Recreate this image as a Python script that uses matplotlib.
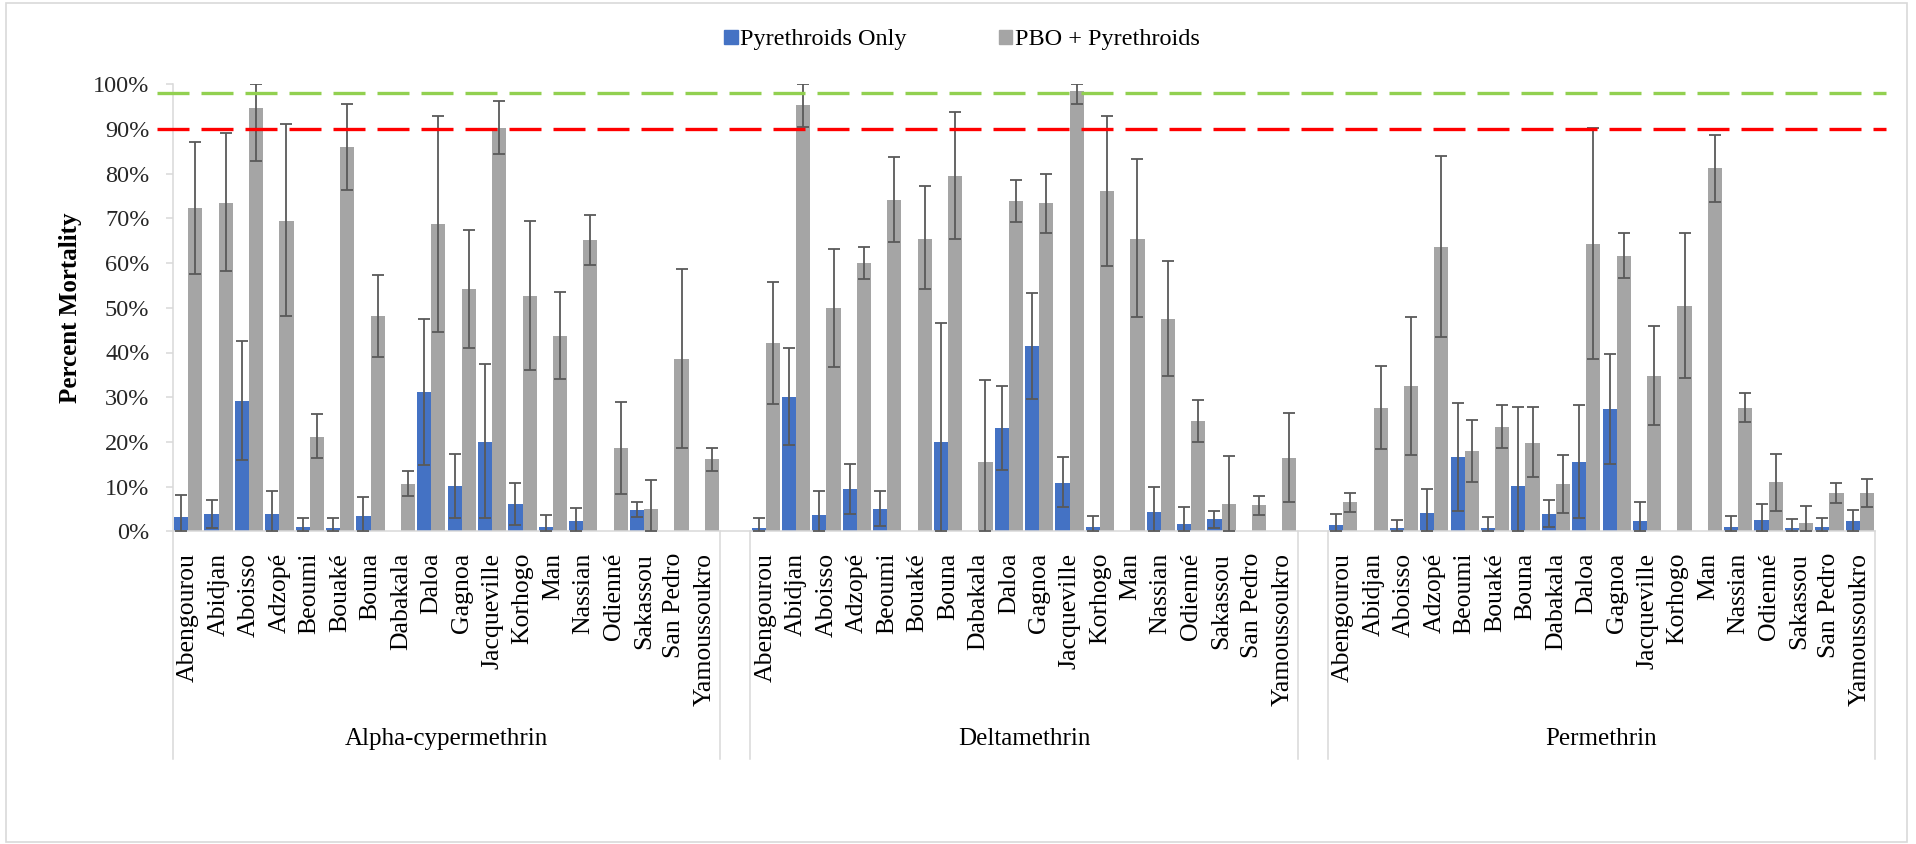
import numpy as np
import matplotlib.pyplot as plt
from matplotlib.patches import Patch, Rectangle
from matplotlib.transforms import blended_transform_factory

plt.rcParams['font.family'] = ['Liberation Serif', 'DejaVu Serif']

sites = ["Abengourou", "Abidjan", "Aboisso", "Adzopé", "Beoumi", "Bouaké",
         "Bouna", "Dabakala", "Daloa", "Gagnoa", "Jacqueville", "Korhogo",
         "Man", "Nassian", "Odienné", "Sakassou", "San Pedro", "Yamoussoukro"]
insecticides = ["Alpha-cypermethrin", "Deltamethrin", "Permethrin"]
series_names = ["Pyrethroids Only", "PBO + Pyrethroids"]

# percent mortality, with lower / upper ends of the error bars (None = no bar)
alpha_pyr = [3.2, 3.9, 29.1, 3.9, 0.9, 0.8, 3.4, 0, 31.1, 10.1, 20.0, 6.0, 0.9, 2.2, 0, 4.7, 0, 0]
alpha_pyr_lo = [0, 0.7, 15.9, 0, 0, 0, 0, None, 14.8, 2.9, 2.9, 1.3, 0, 0, None, 3.1, None, None]
alpha_pyr_hi = [8.1, 7.0, 42.5, 9.1, 3.0, 2.9, 7.7, None, 47.5, 17.3, 37.4, 10.7, 3.6, 5.2, None, 6.5, None, None]
alpha_pbo = [72.3, 73.5, 94.7, 69.5, 21.2, 85.9, 48.1, 10.6, 68.7, 54.1, 90.2, 52.7, 43.8, 65.2, 18.6, 5.0, 38.6, 16.1]
alpha_pbo_lo = [57.6, 58.3, 82.9, 48.1, 16.4, 76.4, 39.0, 7.9, 44.6, 41.0, 84.3, 36.0, 34.1, 59.6, 8.3, 0, 18.7, 13.6]
alpha_pbo_hi = [87.2, 89.0, 100, 91.1, 26.3, 95.6, 57.3, 13.5, 93.0, 67.3, 96.2, 69.4, 53.6, 70.8, 28.9, 11.5, 58.7, 18.7]

delta_pyr = [0.8, 30.1, 3.6, 9.4, 5.0, 0, 20.0, 0, 23.0, 41.5, 10.9, 1.0, 0, 4.4, 1.6, 2.7, 0, 0]
delta_pyr_lo = [0, 19.3, 0, 3.9, 1.2, None, 0, None, 13.8, 29.6, 5.5, 0, None, 0, 0, 0.8, None, None]
delta_pyr_hi = [3.0, 40.9, 9.1, 15.0, 9.0, None, 46.6, None, 32.4, 53.4, 16.6, 3.5, None, 9.8, 5.4, 4.6, None, None]
delta_pbo = [42.1, 95.3, 49.9, 60.0, 74.1, 65.5, 79.4, 15.4, 73.8, 73.4, 98.5, 76.1, 65.5, 47.6, 24.7, 6.2, 5.9, 16.4]
delta_pbo_lo = [28.5, 90.4, 36.8, 56.4, 64.7, 54.1, 65.4, 0, 69.3, 66.8, 95.7, 59.4, 47.9, 34.7, 20.0, 0, 3.7, 6.5]
delta_pbo_hi = [55.8, 100, 63.2, 63.5, 83.7, 77.2, 93.7, 33.8, 78.6, 79.9, 100, 93.0, 83.3, 60.5, 29.4, 16.9, 8.0, 26.4]

perm_pyr = [1.3, 0, 0.8, 4.1, 16.6, 0.8, 10.1, 3.9, 15.5, 27.3, 2.4, 0, 0, 1.0, 2.6, 0.8, 0.9, 2.2]
perm_pyr_lo = [0, None, 0, 0, 4.5, 0, 0, 0.9, 2.9, 15.1, 0, None, None, 0, 0, 0, 0, 0]
perm_pyr_hi = [3.8, None, 2.6, 9.5, 28.6, 3.1, 27.7, 7.0, 28.3, 39.7, 6.6, None, None, 3.4, 6.1, 2.7, 2.9, 4.8]
perm_pbo = [6.5, 27.5, 32.4, 63.6, 18.0, 23.3, 19.8, 10.6, 64.3, 61.7, 34.8, 50.5, 81.2, 27.6, 11.0, 1.9, 8.6, 8.6]
perm_pbo_lo = [4.3, 18.3, 17.0, 43.4, 11.0, 18.6, 12.2, 4.2, 38.5, 56.7, 23.7, 34.4, 73.7, 24.4, 4.6, 0, 6.4, 5.5]
perm_pbo_hi = [8.6, 37.0, 48.0, 84.0, 24.9, 28.3, 27.7, 17.1, 90.3, 66.8, 45.9, 66.8, 88.7, 30.9, 17.4, 5.7, 10.8, 11.7]

thresholds = [98, 90]
threshold_colors = ["#92D050", "#FF0000"]

groups = [
    (alpha_pyr, alpha_pyr_lo, alpha_pyr_hi, alpha_pbo, alpha_pbo_lo, alpha_pbo_hi),
    (delta_pyr, delta_pyr_lo, delta_pyr_hi, delta_pbo, delta_pbo_lo, delta_pbo_hi),
    (perm_pyr, perm_pyr_lo, perm_pyr_hi, perm_pbo, perm_pbo_lo, perm_pbo_hi),
]

blue = "#4472C4"
grey = "#A5A5A5"
axis_grey = "#D9D9D9"
err_col = "#595959"

W, H = 1916, 844
fig = plt.figure(figsize=(W / 100, H / 100), dpi=100)
ax = fig.add_axes([173 / W, 1 - 531.3 / H, (1875 - 173) / W, (531.3 - 84.3) / H])

w = 0.465
step = len(sites) + 1
all_x = []


def draw_errors(xs, mean, lo, hi):
    keep = [i for i in range(len(mean)) if lo[i] is not None]
    m = np.array([mean[i] for i in keep])
    l = np.array([lo[i] for i in keep])
    h = np.array([hi[i] for i in keep])
    ax.errorbar(xs[keep], m, yerr=[m - l, h - m], fmt="none", ecolor=err_col,
                elinewidth=1.3, capsize=4.3, capthick=1.3, zorder=3)


for g, (pyr, pyr_lo, pyr_hi, pbo, pbo_lo, pbo_hi) in enumerate(groups):
    x = np.arange(len(sites)) + g * step
    all_x.extend(x)
    ax.bar(x - w / 2, pyr, w, color=blue, zorder=2)
    ax.bar(x + w / 2, pbo, w, color=grey, zorder=2)
    draw_errors(x - w / 2, pyr, pyr_lo, pyr_hi)
    draw_errors(x + w / 2, pbo, pbo_lo, pbo_hi)

n_cat = 3 * step - 1
ax.set_xlim(-0.5, n_cat - 0.5)
ax.set_ylim(0, 100)

ax.set_xticks(all_x)
ax.set_xticklabels(sites * 3, rotation=90, fontsize=18.5)
ax.tick_params(axis="x", length=0, pad=15.5)
ax.set_yticks(range(0, 101, 10))
ax.set_yticklabels([f"{v}%" for v in range(0, 101, 10)])
ax.tick_params(axis="y", direction="out", length=5, width=1.1, color=axis_grey,
               pad=12, labelsize=17.5, labelcolor="#262626")

for s in ["top", "right"]:
    ax.spines[s].set_visible(False)
for s in ["left", "bottom"]:
    ax.spines[s].set_color(axis_grey)
    ax.spines[s].set_linewidth(1.1)

# threshold lines
for t, c in zip(thresholds, threshold_colors):
    ax.plot([-1.03, n_cat - 0.14], [t, t], color=c, lw=2.4,
            linestyle=(0, (9.6, 3.6)), clip_on=False, zorder=4)

# multi-level category axis boxes and group names
trans = blended_transform_factory(ax.transData, ax.transAxes)
for g, name in enumerate(insecticides):
    x0 = g * step - 0.5
    x1 = x0 + len(sites)
    for xv in (x0, x1):
        ax.plot([xv, xv], [0, -0.509], transform=trans, color=axis_grey,
                lw=1.1, clip_on=False)
    ax.text((x0 + x1) / 2, -0.465, name, transform=trans, ha="center",
            va="center", fontsize=18)

fig.text(70 / W, 1 - 308 / H, "Percent Mortality", rotation=90, ha="center",
         va="center", fontsize=18, fontweight="bold")

handles = [Patch(color=blue), Patch(color=grey)]
fig.legend(handles, series_names, loc="center", bbox_to_anchor=(0.502, 1 - 40 / H),
           ncol=2, frameon=False, fontsize=17.5, handlelength=0.55,
           handleheight=0.55, handletextpad=0.1, columnspacing=3.8)

fig.add_artist(Rectangle((6 / W, 2 / H), (1907 - 6) / W, (841 - 2) / H,
                         transform=fig.transFigure, fill=False,
                         edgecolor=axis_grey, lw=1.2))

fig.savefig("out.png", dpi=100)
